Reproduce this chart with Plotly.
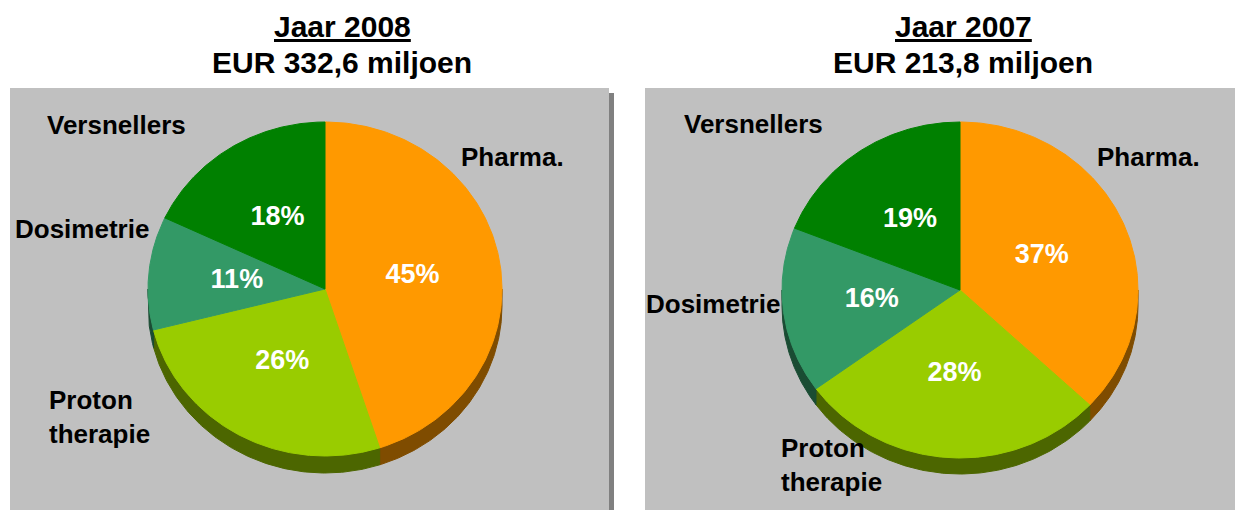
import numpy as np
import plotly.graph_objects as go

# ---------------- data ----------------
categories = ["Pharma.", "Proton therapie", "Dosimetrie", "Versnellers"]
shares_2008 = [45, 26, 11, 18]
shares_2007 = [37, 28, 16, 19]
years = ["Jaar 2008", "Jaar 2007"]
totals = ["EUR 332,6 miljoen", "EUR 213,8 miljoen"]

# ---------------- styles ----------------
FONT = "Liberation Sans, Arial, sans-serif"
top_colors = ["#FF9900", "#99CC00", "#339966", "#008000"]
rim_colors = ["#7F4C00", "#4C6600", "#1A4C33", "#004000"]
W, H = 1235, 510

# pie geometry (pixels): cx, cy, rx, ry, depth
pies = [
    dict(shares=shares_2008, cx=325, cy=289, rx=177, ry=167, depth=17),
    dict(shares=shares_2007, cx=960, cy=290, rx=178, ry=168, depth=16),
]


def ell(p, theta_deg, dy=0.0):
    t = np.radians(theta_deg)
    return p["cx"] + p["rx"] * np.sin(t), p["cy"] - p["ry"] * np.cos(t) + dy


fig = go.Figure()

for p in pies:
    total = sum(p["shares"])
    bounds = np.concatenate([[0], np.cumsum(p["shares"])]) / total * 360.0
    # rims (front half of the pie, 90..270 deg clockwise from top)
    for i in range(len(p["shares"])):
        s, e = max(bounds[i], 90.0), min(bounds[i + 1], 270.0)
        if e <= s:
            continue
        th = np.linspace(s, e, 120)
        x1, y1 = ell(p, th)
        x2, y2 = ell(p, th[::-1], p["depth"])
        fig.add_trace(go.Scatter(
            x=np.concatenate([x1, x2, x1[:1]]), y=np.concatenate([y1, y2, y1[:1]]),
            mode="lines", fill="toself", fillcolor=rim_colors[i],
            line=dict(color=rim_colors[i], width=1), hoverinfo="skip"))
    # top surfaces
    for i in range(len(p["shares"])):
        th = np.linspace(bounds[i], bounds[i + 1], 200)
        x, y = ell(p, th)
        fig.add_trace(go.Scatter(
            x=np.concatenate([[p["cx"]], x, [p["cx"]]]),
            y=np.concatenate([[p["cy"]], y, [p["cy"]]]),
            mode="lines", fill="toself", fillcolor=top_colors[i],
            line=dict(color=top_colors[i], width=1), hoverinfo="skip"))
    # percentage labels at half radius along slice bisector
    mids = (bounds[:-1] + bounds[1:]) / 2
    lx = p["cx"] + 0.5 * p["rx"] * np.sin(np.radians(mids))
    ly = p["cy"] - 0.5 * p["ry"] * np.cos(np.radians(mids))
    fig.add_trace(go.Scatter(
        x=lx, y=ly, mode="text",
        text=[f"<b>{v}%</b>" for v in p["shares"]],
        textfont=dict(family=FONT, size=27, color="white"),
        textposition="middle center", hoverinfo="skip"))


# ---------------- panels (paper coordinates) ----------------
def prect(x0, x1, y0, y1, color):
    return dict(type="rect", xref="paper", yref="paper",
                x0=x0 / W, x1=x1 / W, y0=1 - y1 / H, y1=1 - y0 / H,
                fillcolor=color, line_width=0, layer="below")


shapes = [
    prect(609, 614, 93, H + 5, "#808080"),
    prect(10, 609, 88, H + 5, "#C0C0C0"),
    prect(645, W + 10, 88, H + 5, "#C0C0C0"),
]

annotations = []
for cx, yr, tot in [(342, years[0], totals[0]), (963, years[1], totals[1])]:
    annotations.append(dict(x=cx, y=26, text=f"<b><u>{yr}</u></b>", showarrow=False,
                            font=dict(family=FONT, size=30, color="black"),
                            xanchor="center", yanchor="middle"))
    annotations.append(dict(x=cx, y=62, text=f"<b>{tot}</b>", showarrow=False,
                            font=dict(family=FONT, size=30, color="black"),
                            xanchor="center", yanchor="middle"))

label_pos = [
    # (category index, x, y, xanchor)
    [(0, 512, 157, "center"), (1, 47, 417, "left"), (2, 82, 229, "center"), (3, 116, 125, "center")],
    [(0, 1148, 157, "center"), (1, 779, 465, "left"), (2, 713, 304, "center"), (3, 753, 124, "center")],
]
for pl in label_pos:
    for ci, x, y, xa in pl:
        txt = categories[ci].replace(" ", "<br>")
        annotations.append(dict(x=x, y=y, text=f"<b>{txt}</b>", showarrow=False,
                                font=dict(family=FONT, size=26, color="black"),
                                xanchor=xa, yanchor="middle", align="left"))

fig.update_layout(
    width=W, height=H, margin=dict(l=0, r=0, t=0, b=0),
    paper_bgcolor="white", plot_bgcolor="rgba(0,0,0,0)", showlegend=False,
    xaxis=dict(range=[0, W], visible=False, fixedrange=True),
    yaxis=dict(range=[H, 0], visible=False, fixedrange=True),
    shapes=shapes, annotations=annotations,
)

fig.write_html(
    "out.html",
    config={"displayModeBar": False},
    post_script="document.body.style.margin='0';document.body.style.overflow='hidden';"
                "document.documentElement.style.overflow='hidden';",
)
